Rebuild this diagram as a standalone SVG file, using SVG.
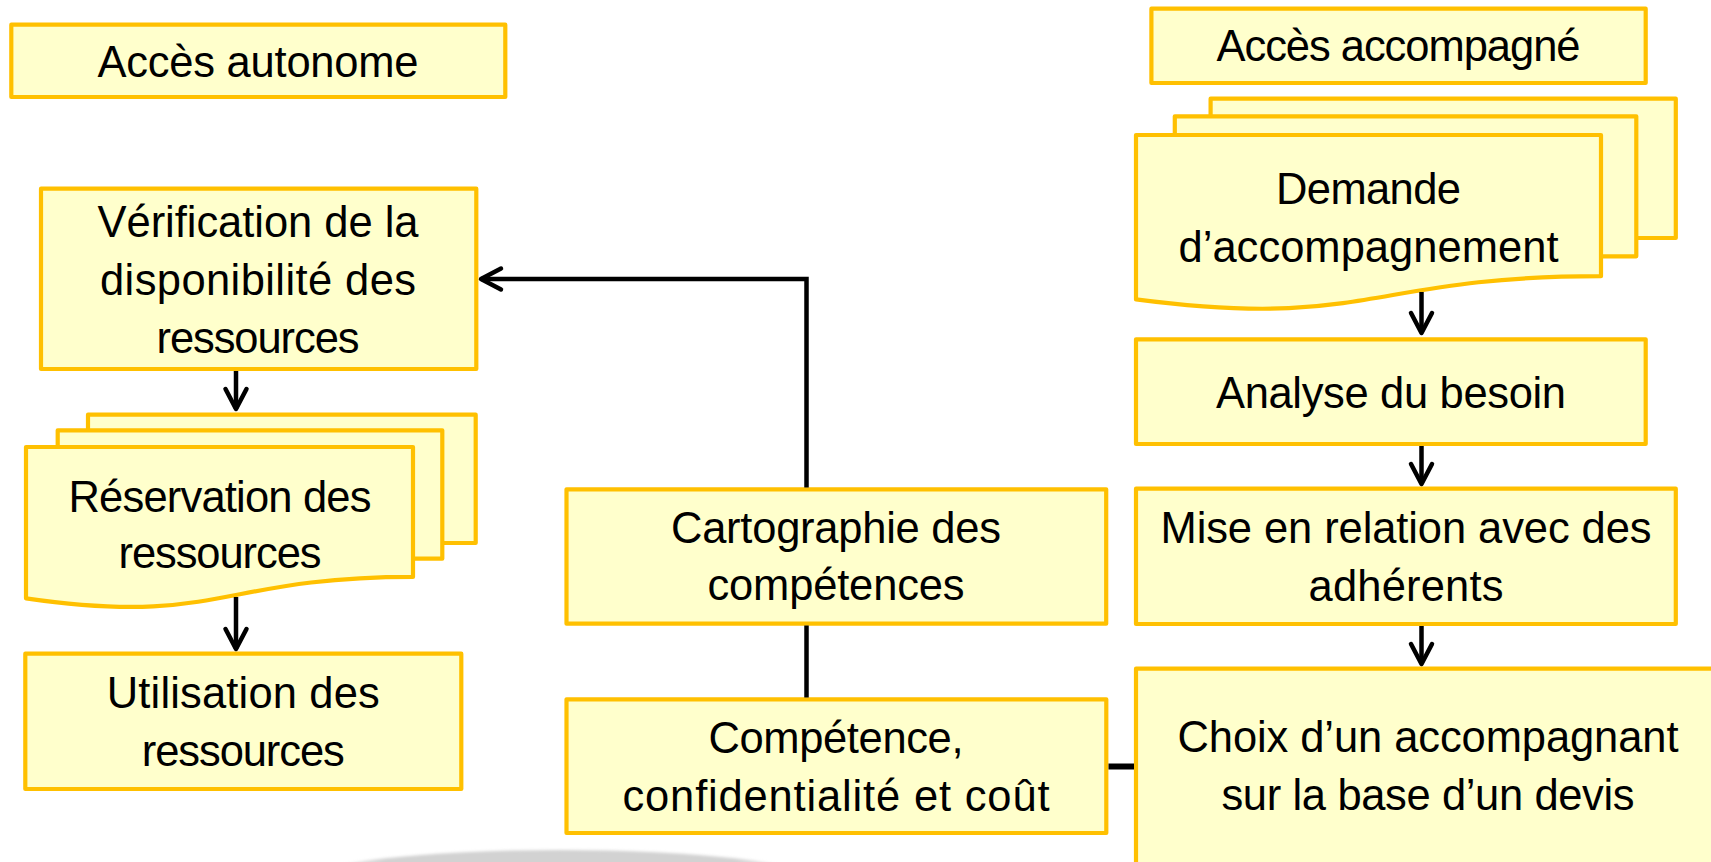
<svg xmlns="http://www.w3.org/2000/svg" width="1711" height="862" viewBox="0 0 1711 862">
  <style>
    .box { fill: #FFFFCC; stroke: #FFC000; stroke-width: 4.2; stroke-linejoin: round; }
    .lbl { font-family: "Liberation Sans", Arial, sans-serif; font-size: 43.5px; fill: #000; text-anchor: middle; }
    .conn { fill: none; stroke: #000; stroke-width: 4.5; stroke-linejoin: miter; }
  </style>
  <defs>
    <marker id="arr" markerUnits="userSpaceOnUse" viewBox="-25 -15 30 30" markerWidth="30" markerHeight="30" refX="0" refY="0" orient="auto">
      <path d="M-20,-10.5 L0,0 L-20,10.5" fill="none" stroke="#000" stroke-width="4.5" stroke-linecap="round" stroke-linejoin="round"/>
    </marker>
    <linearGradient id="sw" x1="0" y1="0" x2="1" y2="0">
      <stop offset="0" stop-color="#d2d2d2" stop-opacity="0"/>
      <stop offset="0.15" stop-color="#d2d2d2"/>
      <stop offset="0.85" stop-color="#d2d2d2"/>
      <stop offset="1" stop-color="#d2d2d2" stop-opacity="0"/>
    </linearGradient>
    <filter id="blur" x="-10%" y="-50%" width="120%" height="200%">
      <feGaussianBlur stdDeviation="1.5"/>
    </filter>
  </defs>

  <ellipse cx="560" cy="879" rx="250" ry="29" fill="url(#sw)" filter="url(#blur)"/>

  <g id="acces-autonome">
    <rect class="box" x="11.3" y="24.7" width="494" height="72.3"/>
    <text class="lbl" x="258" y="77" textLength="321">Accès autonome</text>
  </g>

  <g id="verification">
    <rect class="box" x="41" y="188.7" width="435.3" height="180.3"/>
    <text class="lbl" x="258" y="236.7" textLength="321">Vérification de la</text>
    <text class="lbl" x="258" y="295" textLength="316">disponibilité des</text>
    <text class="lbl" x="258" y="352.7" textLength="203">ressources</text>
  </g>

  <g id="reservation">
    <rect class="box" x="88" y="414.7" width="387.7" height="128.3"/>
    <rect class="box" x="57.7" y="430.3" width="384.6" height="128.4"/>
    <path class="box" d="M26,447 H413 V576.9 C219.5,576.9 219.5,626.4 26,598.3 Z"/>
    <text class="lbl" x="220" y="511.7" textLength="303">Réservation des</text>
    <text class="lbl" x="220" y="568" textLength="203">ressources</text>
  </g>

  <g id="utilisation">
    <rect class="box" x="25.3" y="653.7" width="436" height="135.3"/>
    <text class="lbl" x="243.3" y="708.3" textLength="273">Utilisation des</text>
    <text class="lbl" x="243.3" y="766" textLength="203">ressources</text>
  </g>

  <g id="acces-accompagne">
    <rect class="box" x="1151.4" y="8.7" width="494.3" height="74.3"/>
    <text class="lbl" x="1398.5" y="61" textLength="364">Accès accompagné</text>
  </g>

  <g id="demande">
    <rect class="box" x="1210.6" y="98.7" width="465.2" height="139.3"/>
    <rect class="box" x="1174.8" y="116.3" width="461.5" height="140"/>
    <path class="box" d="M1136,135 H1601 V276.2 C1368.5,276.2 1368.5,329.9 1136,299.4 Z"/>
    <text class="lbl" x="1368.5" y="204" textLength="185">Demande</text>
    <text class="lbl" x="1368.5" y="261.7" textLength="380">d’accompagnement</text>
  </g>

  <g id="analyse">
    <rect class="box" x="1136" y="339.3" width="509.7" height="104.7"/>
    <text class="lbl" x="1391" y="407.7" textLength="350">Analyse du besoin</text>
  </g>

  <g id="mise-en-relation">
    <rect class="box" x="1136" y="488.7" width="539.8" height="135.3"/>
    <text class="lbl" x="1406" y="543.3" textLength="491">Mise en relation avec des</text>
    <text class="lbl" x="1406" y="600.7" textLength="195">adhérents</text>
  </g>

  <g id="cartographie">
    <rect class="box" x="566.5" y="489.3" width="539.7" height="134.4"/>
    <text class="lbl" x="836" y="543.3" textLength="330">Cartographie des</text>
    <text class="lbl" x="836" y="600" textLength="257">compétences</text>
  </g>

  <g id="competence">
    <rect class="box" x="566.5" y="699.3" width="539.8" height="133.7"/>
    <text class="lbl" x="836" y="753.3" textLength="255">Compétence,</text>
    <text class="lbl" x="836" y="810.7" textLength="427">confidentialité et coût</text>
  </g>

  <g id="choix">
    <rect class="box" x="1136" y="668.7" width="584" height="240"/>
    <text class="lbl" x="1428" y="751.7" textLength="501">Choix d’un accompagnant</text>
    <text class="lbl" x="1428" y="810" textLength="413">sur la base d’un devis</text>
  </g>

  <g id="connectors">
    <path class="conn" d="M806.5,487.5 V279 H481" marker-end="url(#arr)"/>
    <path class="conn" d="M806.5,625.5 V697.5"/>
    <path class="conn" d="M1108.5,766.5 H1134" style="stroke-width:6"/>
    <path class="conn" d="M236,371 V409" marker-end="url(#arr)"/>
    <path class="conn" d="M236,597 V649" marker-end="url(#arr)"/>
    <path class="conn" d="M1421.5,292 V333" marker-end="url(#arr)"/>
    <path class="conn" d="M1421.5,446 V484" marker-end="url(#arr)"/>
    <path class="conn" d="M1421.5,626 V664" marker-end="url(#arr)"/>
  </g>
</svg>
